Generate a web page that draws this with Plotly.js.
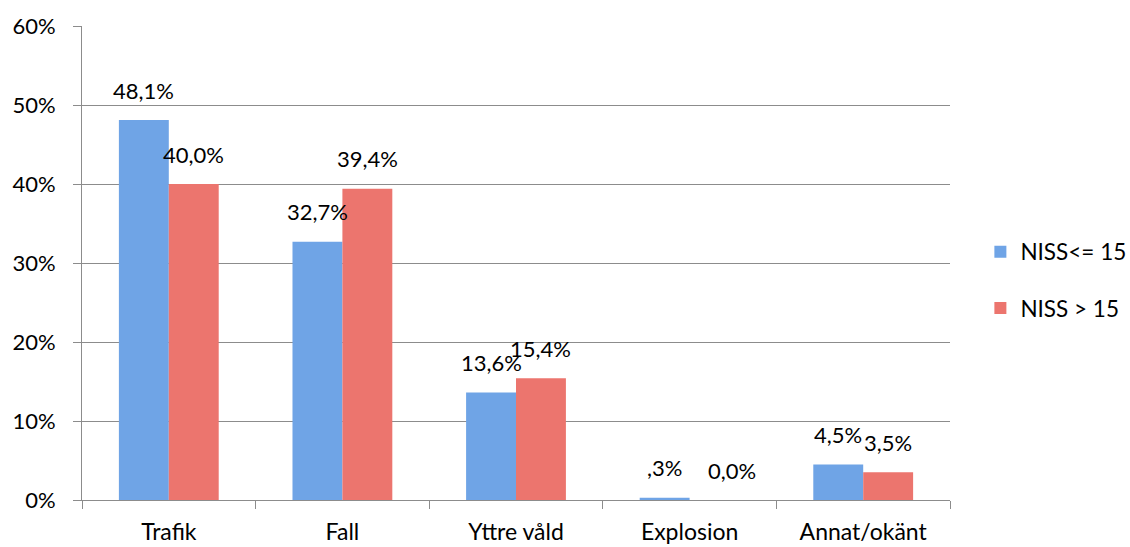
<!DOCTYPE html>
<html>
<head>
<meta charset="utf-8">
<script src="https://cdn.plot.ly/plotly-3.0.1.min.js"></script>
<style>html,body{margin:0;padding:0;background:#fff;}#chart{width:1130px;height:547px;}</style>
</head>
<body>
<div id="chart"></div>
<script>
var categories = ['Trafik', 'Fall', 'Yttre våld', 'Explosion', 'Annat/okänt'];
var seriesNames = ['NISS<= 15', 'NISS > 15'];
var valuesLow = [0.481, 0.327, 0.136, 0.003, 0.045];
var valuesHigh = [0.400, 0.394, 0.154, 0.000, 0.035];
var labelsLow = ['48,1%', '32,7%', '13,6%', ',3%', '4,5%'];
var labelsHigh = ['40,0%', '39,4%', '15,4%', '0,0%', '3,5%'];
var yTickVals = [0, 0.1, 0.2, 0.3, 0.4, 0.5, 0.6];
var yTickText = ['0%', '10%', '20%', '30%', '40%', '50%', '60%'];

var FONT = 'Lato, "Open Sans", sans-serif';
var BARGAP = 0.425;
var half = (1 - BARGAP) / 4;

var traces = [
  {type: 'bar', name: seriesNames[0], x: categories, y: valuesLow,
   marker: {color: '#6fa4e6'}, legendgroup: 'a', hoverinfo: 'none'},
  {type: 'bar', name: seriesNames[1], x: categories, y: valuesHigh,
   marker: {color: '#ec756e'}, legendgroup: 'b', hoverinfo: 'none'}
];

var annotations = [];
function addLabels(vals, labels, sign) {
  for (var i = 0; i < vals.length; i++) {
    annotations.push({
      xref: 'x', yref: 'y', x: i + sign * half, y: vals[i],
      text: labels[i], showarrow: false, yanchor: 'middle', xanchor: 'center',
      yshift: 30, xshift: vals[i] === 0 ? 17 : 0,
      font: {family: FONT, size: 22, color: '#000'}
    });
  }
}
addLabels(valuesLow, labelsLow, -1);
addLabels(valuesHigh, labelsHigh, 1);

var layout = {
  width: 1130, height: 547,
  margin: {l: 82, r: 180, t: 26, b: 47, autoexpand: false},
  paper_bgcolor: '#fff', plot_bgcolor: '#fff',
  font: {family: FONT, size: 22, color: '#000'},
  barmode: 'group', bargap: BARGAP, bargroupgap: 0,
  showlegend: true,
  legend: {x: 1.035, xanchor: 'left', y: 0.464, yanchor: 'middle',
           font: {family: FONT, size: 22.5, color: '#000'},
           tracegroupgap: 24, traceorder: 'grouped', itemwidth: 30,
           bgcolor: 'rgba(0,0,0,0)'},
  xaxis: {type: 'category', showgrid: false, showline: true, linecolor: '#8c8c8c', linewidth: 1,
          ticks: 'outside', tickson: 'boundaries', ticklen: 8, tickcolor: '#8c8c8c',
          ticklabelstandoff: 11, zeroline: false,
          tickfont: {family: FONT, size: 23, color: '#000'}},
  yaxis: {range: [0, 0.6], tickvals: yTickVals, ticktext: yTickText,
          showgrid: true, gridcolor: '#8c8c8c', gridwidth: 1,
          showline: true, linecolor: '#8c8c8c', linewidth: 1,
          ticks: 'outside', ticklen: 8, tickcolor: '#8c8c8c',
          ticklabelstandoff: 13, zeroline: false,
          tickfont: {family: FONT, size: 22, color: '#000'}},
  annotations: annotations
};

Plotly.newPlot('chart', traces, layout, {displayModeBar: false, staticPlot: true});
</script>
</body>
</html>
